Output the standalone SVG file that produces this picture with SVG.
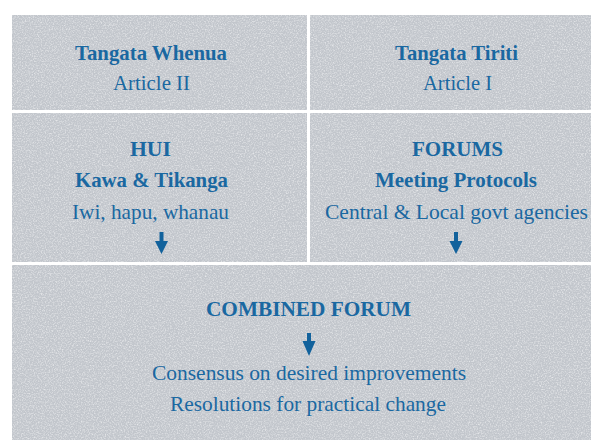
<svg xmlns="http://www.w3.org/2000/svg" width="591" height="440" viewBox="0 0 591 440">
  <defs>
    <filter id="paper" x="0" y="0" width="1" height="1" filterUnits="objectBoundingBox" color-interpolation-filters="sRGB">
      <feTurbulence type="fractalNoise" baseFrequency="0.75" numOctaves="3" seed="7" result="noise"/>
      <feColorMatrix in="noise" type="matrix" values="0 0 0 0 1  0 0 0 0 1  0 0 0 0 1  1.3 0 0 0 -0.55" result="light"/>
      <feComposite in="light" in2="SourceGraphic" operator="atop"/>
    </filter>
    <style>
      .panel { fill: #c2c6cc; }
      .t { font-family: "Liberation Serif", "Times New Roman", serif; fill: #1a68a1; text-anchor: middle; }
      .b { font-weight: bold; font-size: 21px; }
      .r { font-size: 21.5px; }
      .arrow { fill: #12629c; }
    </style>
  </defs>
  <rect x="0" y="0" width="591" height="440" fill="#ffffff"/>

  <g id="tangata-whenua">
    <rect class="panel" x="12" y="15" width="295" height="95" filter="url(#paper)"/>
    <text class="t b" x="151" y="60" textLength="152" lengthAdjust="spacingAndGlyphs">Tangata Whenua</text>
    <text class="t r" x="151.5" y="90" textLength="77" lengthAdjust="spacingAndGlyphs">Article II</text>
  </g>

  <g id="tangata-tiriti">
    <rect class="panel" x="310" y="15" width="281" height="95" filter="url(#paper)"/>
    <text class="t b" x="456.5" y="60" textLength="123" lengthAdjust="spacingAndGlyphs">Tangata Tiriti</text>
    <text class="t r" x="457.5" y="90" textLength="69" lengthAdjust="spacingAndGlyphs">Article I</text>
  </g>

  <g id="hui">
    <rect class="panel" x="12" y="113" width="295" height="149" filter="url(#paper)"/>
    <text class="t b" x="150.5" y="156" textLength="41" lengthAdjust="spacingAndGlyphs">HUI</text>
    <text class="t b" x="151.5" y="187" textLength="153" lengthAdjust="spacingAndGlyphs">Kawa &amp; Tikanga</text>
    <text class="t r" x="150.5" y="219" textLength="157" lengthAdjust="spacingAndGlyphs">Iwi, hapu, whanau</text>
  </g>

  <g id="forums">
    <rect class="panel" x="310" y="113" width="281" height="149" filter="url(#paper)"/>
    <text class="t b" x="457.5" y="156" textLength="91" lengthAdjust="spacingAndGlyphs">FORUMS</text>
    <text class="t b" x="456" y="187" textLength="162" lengthAdjust="spacingAndGlyphs">Meeting Protocols</text>
    <text class="t r" x="456.5" y="219" textLength="263" lengthAdjust="spacingAndGlyphs">Central &amp; Local govt agencies</text>
  </g>

  <g id="combined-forum">
    <rect class="panel" x="12" y="265" width="579" height="175" filter="url(#paper)"/>
    <text class="t b" x="308.5" y="316" textLength="205" lengthAdjust="spacingAndGlyphs">COMBINED FORUM</text>
    <text class="t r" x="309" y="380" textLength="314" lengthAdjust="spacingAndGlyphs">Consensus on desired improvements</text>
    <text class="t r" x="308" y="411" textLength="276" lengthAdjust="spacingAndGlyphs">Resolutions for practical change</text>
  </g>

  <g id="connectors">
    <path class="arrow" d="M159.5,232 H163.5 V241 H168 L161.5,254 L155,241 H159.5 Z"/>
    <path class="arrow" d="M454,232 H458 V241 H462.5 L456,254 L449.5,241 H454 Z"/>
    <path class="arrow" d="M307,333 H311 V341 H315.5 L309,356 L302.5,341 H307 Z"/>
  </g>
</svg>
